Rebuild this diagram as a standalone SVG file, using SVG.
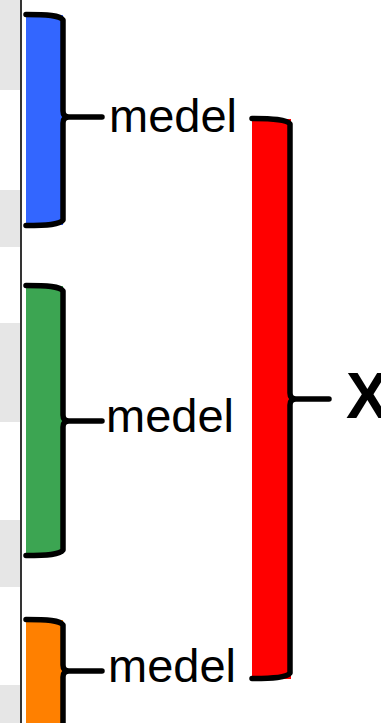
<svg xmlns="http://www.w3.org/2000/svg" width="381" height="723" viewBox="0 0 381 723">
<style>
.band{fill:#e6e6e6}
.brace{fill:none;stroke:#000;stroke-width:5.5;stroke-linejoin:round;stroke-linecap:round}
.lbl{font-family:"Liberation Sans",Arial,sans-serif;font-size:47px;fill:#000}
.big{font-family:"Liberation Sans",Arial,sans-serif;font-size:64px;font-weight:bold;fill:#000}
</style>
<rect width="381" height="723" fill="#fff"/>
<g id="frame">
<rect class="band" x="0" y="0" width="20" height="90"/>
<rect class="band" x="0" y="190" width="20" height="57"/>
<rect class="band" x="0" y="323" width="20" height="99"/>
<rect class="band" x="0" y="520" width="20" height="67"/>
<rect class="band" x="0" y="685" width="20" height="38"/>
<line x1="21" y1="0" x2="21" y2="723" stroke="#000" stroke-width="1.6"/>
</g>
<g id="blue">
<rect x="26" y="15" width="37" height="210" fill="#3366ff"/>
<path class="brace" d="M26,14.5 C48,14.5 60,15.5 63,20 L63,111 Q63,117 69,117 L102,117 M69,117 Q63,117 63,123 L63,220 C60,224.5 48,225.5 26,225.5"/>
</g>
<g id="green">
<rect x="26" y="286" width="37" height="268" fill="#3ca552"/>
<path class="brace" d="M26,285.5 C48,285.5 60,286.5 63,291 L63,415 Q63,421 69,421 L102,421 M69,421 Q63,421 63,427 L63,550 C60,554.5 48,555.5 26,555.5"/>
</g>
<g id="orange">
<rect x="26" y="620" width="37" height="110" fill="#ff8000"/>
<path class="brace" d="M26,619.5 C48,619.5 60,620.5 63,625 L63,665 Q63,671 69,671 L102,671 M69,671 Q63,671 63,677 L63,730"/>
</g>
<g id="red">
<rect x="252" y="119" width="39" height="560" fill="#ff0000"/>
<path class="brace" d="M252,118.5 C272,118.5 287,119.5 290,124 L290,393 Q290,399 296,399 L329,399 M296,399 Q290,399 290,405 L290,673 C287,677.5 272,678.5 252,678.5"/>
</g>
<g id="labels">
<text class="lbl" x="109" y="132">medel</text>
<text class="lbl" x="106" y="432">medel</text>
<text class="lbl" x="108" y="682">medel</text>
<text class="big" x="346" y="418">X</text>
</g>
</svg>
